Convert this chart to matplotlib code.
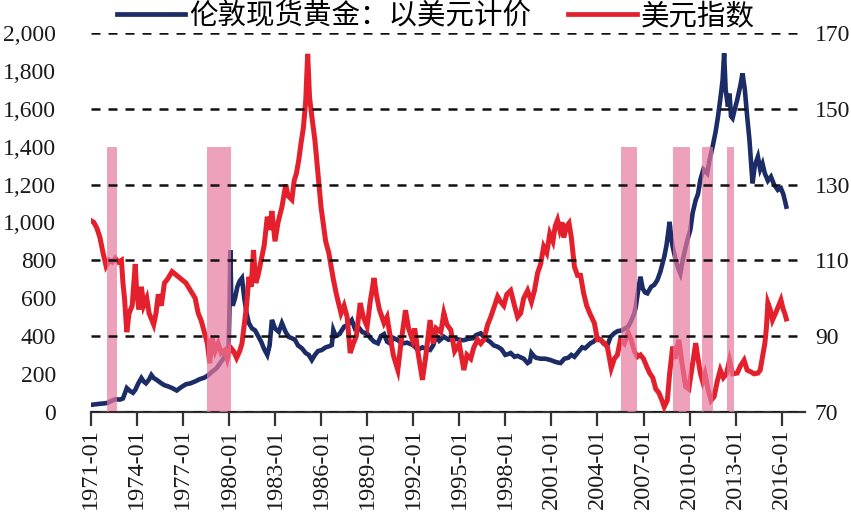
import matplotlib
matplotlib.use("Agg")
import matplotlib.pyplot as plt
from matplotlib.lines import Line2D
from matplotlib.ticker import FuncFormatter

# ---------------- data ----------------
gold_year = [1971.0, 1971.3, 1971.6, 1971.9, 1972.1, 1972.3, 1972.6, 1972.9, 1973.1, 1973.35,
             1973.55, 1973.75, 1973.9, 1974.1, 1974.3, 1974.45, 1974.6, 1974.8, 1974.95, 1975.1,
             1975.3, 1975.6, 1975.8, 1976.0, 1976.3, 1976.6, 1976.9, 1977.2, 1977.5, 1977.8,
             1978.1, 1978.4, 1978.6, 1978.9, 1979.2, 1979.5, 1979.8, 1979.98, 1980.05, 1980.09,
             1980.15, 1980.25, 1980.4, 1980.55, 1980.7, 1980.85, 1981.0, 1981.15, 1981.3, 1981.5,
             1981.7, 1981.9, 1982.1, 1982.3, 1982.5, 1982.65, 1982.8, 1983.0, 1983.25, 1983.45,
             1983.7, 1983.9, 1984.1, 1984.3, 1984.5, 1984.75, 1985.0, 1985.2, 1985.4, 1985.6,
             1985.8, 1986.05, 1986.3, 1986.5, 1986.7, 1986.8, 1986.95, 1987.2, 1987.5, 1987.75,
             1988.0, 1988.2, 1988.4, 1988.7, 1989.0, 1989.2, 1989.45, 1989.7, 1989.9, 1990.1,
             1990.3, 1990.5, 1990.7, 1991.0, 1991.3, 1991.6, 1991.9, 1992.1, 1992.3, 1992.6,
             1992.9, 1993.1, 1993.3, 1993.5, 1993.7, 1994.0, 1994.3, 1994.6, 1994.9, 1995.1,
             1995.3, 1995.6, 1995.9, 1996.1, 1996.4, 1996.7, 1997.0, 1997.25, 1997.5, 1997.75,
             1998.0, 1998.2, 1998.35, 1998.6, 1998.8, 1999.0, 1999.2, 1999.45, 1999.6, 1999.7,
             1999.85, 2000.0, 2000.3, 2000.6, 2000.95, 2001.2, 2001.4, 2001.6, 2001.85, 2002.1,
             2002.3, 2002.5, 2002.75, 2003.0, 2003.2, 2003.55, 2003.75, 2004.0, 2004.2, 2004.4,
             2004.65, 2004.85, 2005.1, 2005.3, 2005.6, 2005.8, 2006.0, 2006.2, 2006.4, 2006.5,
             2006.65, 2006.8, 2006.95, 2007.1, 2007.25, 2007.5, 2007.7, 2007.9, 2008.1, 2008.35,
             2008.5, 2008.7, 2008.8, 2008.9, 2009.1, 2009.25, 2009.4, 2009.55, 2009.75, 2009.9,
             2010.05, 2010.2, 2010.4, 2010.55, 2010.7, 2010.9, 2011.15, 2011.3, 2011.5, 2011.7,
             2011.85, 2012.0, 2012.15, 2012.25, 2012.35, 2012.5, 2012.6, 2012.7, 2012.8, 2012.95,
             2013.1, 2013.3, 2013.45, 2013.6, 2013.75, 2013.9, 2014.0, 2014.1, 2014.25, 2014.45,
             2014.6, 2014.75, 2014.9, 2015.1, 2015.3, 2015.5, 2015.75, 2015.95, 2016.1, 2016.2,
             2016.3]
gold_price = [36, 39, 42, 44, 47, 55, 66, 64, 70, 125,
              110, 100, 115, 150, 178, 160, 150, 170, 194, 178,
              168, 150, 140, 135, 125, 112, 130, 145, 150, 160,
              172, 180, 190, 211, 230, 265, 300, 335, 600, 853,
              620, 560, 600, 660, 690, 706, 600, 520, 468, 440,
              430, 400, 370, 330, 300, 350, 485, 440, 422, 468,
              420, 395, 388, 380, 350, 335, 310, 300, 273, 300,
              320, 326, 340, 345, 352, 431, 400, 410, 449, 460,
              484, 440, 450, 420, 414, 390, 370, 361, 400, 410,
              370, 360, 390, 378, 360, 365, 355, 345, 326, 340,
              330, 326, 350, 400, 375, 396, 380, 385, 383, 378,
              378, 385, 388, 405, 414, 385, 370, 350, 343, 330,
              300, 305, 310, 290, 295, 287, 280, 257, 265, 310,
              295, 285, 280, 280, 273, 265, 260, 257, 280, 285,
              300, 290, 315, 340, 335, 362, 370, 390, 380, 360,
              350, 395, 415, 425, 430, 440, 449, 480, 520, 555,
              640, 713, 650, 630, 625, 660, 670, 695, 740, 818,
              880, 1003, 920, 871, 800, 760, 730, 800, 871, 920,
              960, 1050, 1118, 1150, 1224, 1280, 1259, 1330, 1400, 1480,
              1558, 1650, 1750, 1893, 1700, 1611, 1680, 1560, 1550, 1600,
              1646, 1720, 1787, 1700, 1560, 1435, 1320, 1206, 1300, 1347,
              1280, 1310, 1259, 1220, 1241, 1200, 1171, 1180, 1150, 1118,
              1083]

usd_year = [1971.0, 1971.2, 1971.4, 1971.6, 1971.8, 1972.0, 1972.2, 1972.4, 1972.6, 1972.8,
            1973.0, 1973.1, 1973.2, 1973.35, 1973.5, 1973.7, 1973.9, 1974.0, 1974.15, 1974.3,
            1974.45, 1974.65, 1974.8, 1975.1, 1975.25, 1975.4, 1975.6, 1975.8, 1976.0, 1976.3,
            1976.6, 1976.9, 1977.2, 1977.5, 1977.8, 1978.0, 1978.2, 1978.4, 1978.6, 1978.75,
            1978.9, 1979.1, 1979.3, 1979.5, 1979.75, 1979.9, 1980.1, 1980.3, 1980.5, 1980.7,
            1980.85, 1981.0, 1981.15, 1981.3, 1981.45, 1981.6, 1981.75, 1981.9, 1982.1, 1982.3,
            1982.5, 1982.65, 1982.8, 1983.0, 1983.2, 1983.45, 1983.7, 1983.85, 1984.1, 1984.25,
            1984.4, 1984.55, 1984.7, 1984.85, 1985.0, 1985.13, 1985.25, 1985.4, 1985.6, 1985.8,
            1986.0, 1986.3, 1986.5, 1986.8, 1987.0, 1987.3, 1987.5, 1987.7, 1987.9, 1988.1,
            1988.3, 1988.55, 1988.75, 1989.0, 1989.2, 1989.45, 1989.6, 1989.8, 1990.1, 1990.3,
            1990.5, 1990.7, 1991.0, 1991.2, 1991.5, 1991.7, 1991.95, 1992.1, 1992.3, 1992.6,
            1992.8, 1993.1, 1993.3, 1993.5, 1993.8, 1994.0, 1994.2, 1994.45, 1994.7, 1995.0,
            1995.3, 1995.5, 1995.75, 1995.95, 1996.2, 1996.4, 1996.6, 1996.85, 1997.05, 1997.3,
            1997.5, 1997.7, 1997.9, 1998.1, 1998.35, 1998.6, 1998.8, 1999.0, 1999.2, 1999.45,
            1999.7, 1999.9, 2000.1, 2000.3, 2000.5, 2000.7, 2000.9, 2001.1, 2001.25, 2001.4,
            2001.55, 2001.7, 2001.8, 2002.0, 2002.15, 2002.3, 2002.5, 2002.7, 2002.9, 2003.1,
            2003.3, 2003.5, 2003.8, 2004.0, 2004.2, 2004.45, 2004.65, 2004.9, 2005.1, 2005.3,
            2005.5, 2005.75, 2006.0, 2006.2, 2006.4, 2006.6, 2006.8, 2007.0, 2007.2, 2007.4,
            2007.6, 2007.8, 2008.0, 2008.2, 2008.35, 2008.55, 2008.7, 2008.9, 2009.05, 2009.3,
            2009.5, 2009.75, 2009.95, 2010.1, 2010.4, 2010.55, 2010.7, 2010.85, 2011.0, 2011.2,
            2011.4, 2011.6, 2011.8, 2012.0, 2012.2, 2012.4, 2012.6, 2012.8, 2013.1, 2013.3,
            2013.55, 2013.75, 2014.0, 2014.2, 2014.45, 2014.6, 2014.75, 2014.9, 2015.0, 2015.1,
            2015.25, 2015.4, 2015.6, 2015.8, 2015.95, 2016.1, 2016.2, 2016.3]
usd_index = [120.5, 120, 118.5, 116, 112, 108.5, 110, 109.5, 110.5, 109.5,
             110, 104, 100, 91, 96, 98, 109, 101, 97, 103,
             98, 100, 96, 93, 96, 101, 98, 104, 105, 107,
             106, 105, 104, 102, 100, 96, 94, 91, 88, 82.8,
             89.5, 86, 88, 85.5, 86.3, 84, 87, 86, 84.2, 86,
             88, 93, 98, 105.6, 103, 112.7, 104, 106, 110, 114,
             121.5, 118, 123, 115, 120, 124, 130, 127, 126, 131,
             133, 136.5, 141, 145, 152, 164.5, 153, 148, 141.7, 133,
             124, 115, 112, 105, 101, 96, 98, 95, 85.5, 88,
             90, 98.7, 95, 92.5, 99, 105.3, 101, 97, 93.4, 95,
             90, 85, 81, 88, 96.8, 92, 89, 92, 86, 78.4,
             84, 94.2, 88, 92, 91, 96, 93, 91.6, 86, 88,
             81, 85, 84, 87, 89, 88, 89, 93, 95, 98,
             100.4, 99, 98, 101, 102, 98, 95, 96, 100, 102,
             99, 102, 106.6, 109, 113.6, 112, 117, 115, 119, 120.6,
             118, 120, 116, 119, 119.8, 116, 108.3, 106, 106, 101.3,
             98, 96, 93.4, 89, 89, 88.1, 87, 81.5, 84, 85,
             89, 88, 90.8, 89, 86, 84.5, 85, 84, 82, 80.2,
             79, 76, 75, 73, 71.3, 73, 80, 87.2, 84, 89,
             83, 76.6, 76, 80, 88.1, 84, 80.2, 78, 80, 76,
             73, 74, 78, 81, 79, 80, 83.6, 80, 80.2, 82,
             83.6, 81, 80.5, 80, 80.2, 81, 84.5, 88, 92, 98.7,
             97, 94.2, 96, 98, 99.5, 97, 96, 94.5]

shade_start = [1972.04, 1978.55, 2005.51, 2008.94, 2010.79, 2012.46]
shade_end = [1972.69, 1980.12, 2006.56, 2010.03, 2011.51, 2012.89]
shade_low = 70
shade_high = 140

tick_years = [1971, 1974, 1977, 1980, 1983, 1986, 1989, 1992, 1995, 1998, 2001, 2004, 2007, 2010, 2013, 2016]
tick_labels = ['1971-01', '1974-01', '1977-01', '1980-01', '1983-01', '1986-01', '1989-01', '1992-01',
               '1995-01', '1998-01', '2001-01', '2004-01', '2007-01', '2010-01', '2013-01', '2016-01']

left_ticks = [0, 200, 400, 600, 800, 1000, 1200, 1400, 1600, 1800, 2000]
right_ticks = [70, 90, 110, 130, 150, 170]

gold_label = '伦敦现货黄金：以美元计价'
usd_label = '美元指数'

# ---------------- styling ----------------
NAVY = '#1B2C66'
RED = '#E3202B'
PINK = '#E8799F'
TXT = '#1a1a1a'
SERIF = 'Liberation Serif'
CJK = ['Noto Sans CJK SC', 'DejaVu Sans']
FS = 17.0

fig = plt.figure(figsize=(8.51, 5.16), dpi=100)
ax = fig.add_axes([0.1066, 0.2021, 0.8394, 0.7339])
ax2 = ax.twinx()

ax.plot(gold_year, gold_price, color=NAVY, lw=3.3, solid_joinstyle='miter', zorder=2)
ax2.plot(usd_year, usd_index, color=RED, lw=3.6, solid_joinstyle='miter', zorder=2)

widths = [e - s for s, e in zip(shade_start, shade_end)]
ax2.bar(shade_start, [shade_high - shade_low] * len(shade_start), width=widths,
        bottom=shade_low, align='edge', color=PINK, alpha=0.7, linewidth=0, zorder=2.2)

ax.set_xlim(1971.0, 2017.52)
ax.set_ylim(0, 2000)
ax2.set_ylim(70, 170)

ax.set_yticks(left_ticks)
ax.yaxis.set_major_formatter(FuncFormatter(lambda v, p: f'{int(v):,}'))
ax2.set_yticks(right_ticks)

ax.set_xticks(tick_years)
ax.set_xticklabels(tick_labels, rotation=90, fontsize=FS + 0.5, family=SERIF, color=TXT)

for a in (ax, ax2):
    for s in ('top', 'left', 'right'):
        a.spines[s].set_visible(False)
ax2.spines['bottom'].set_visible(False)
ax.spines['bottom'].set_linewidth(1.6)
ax.spines['bottom'].set_color('#333333')

ax.tick_params(axis='x', direction='out', length=10, width=1.6, color='#333333', pad=2)
ax.tick_params(axis='y', length=0, pad=25, labelsize=FS, labelcolor=TXT)
ax2.tick_params(axis='y', length=0, pad=7, labelsize=FS, labelcolor=TXT)
for lab in ax.get_yticklabels() + ax2.get_yticklabels():
    lab.set_family(SERIF)

ax2.set_axisbelow(False)
ax2.grid(axis='y', color='#111111', linestyle=(0, (3.6, 3.2)), linewidth=1.8)

handles = [Line2D([], [], color=NAVY, lw=3.4), Line2D([], [], color=RED, lw=3.4)]
fig.legend(handles, [gold_label, usd_label], loc='center', bbox_to_anchor=(0.512, 0.969),
           ncol=2, frameon=False, prop={'family': CJK, 'size': 20.5},
           handlelength=2.4, handletextpad=0.15, columnspacing=1.3, borderpad=0, borderaxespad=0)

fig.savefig('out.png', dpi=100)
